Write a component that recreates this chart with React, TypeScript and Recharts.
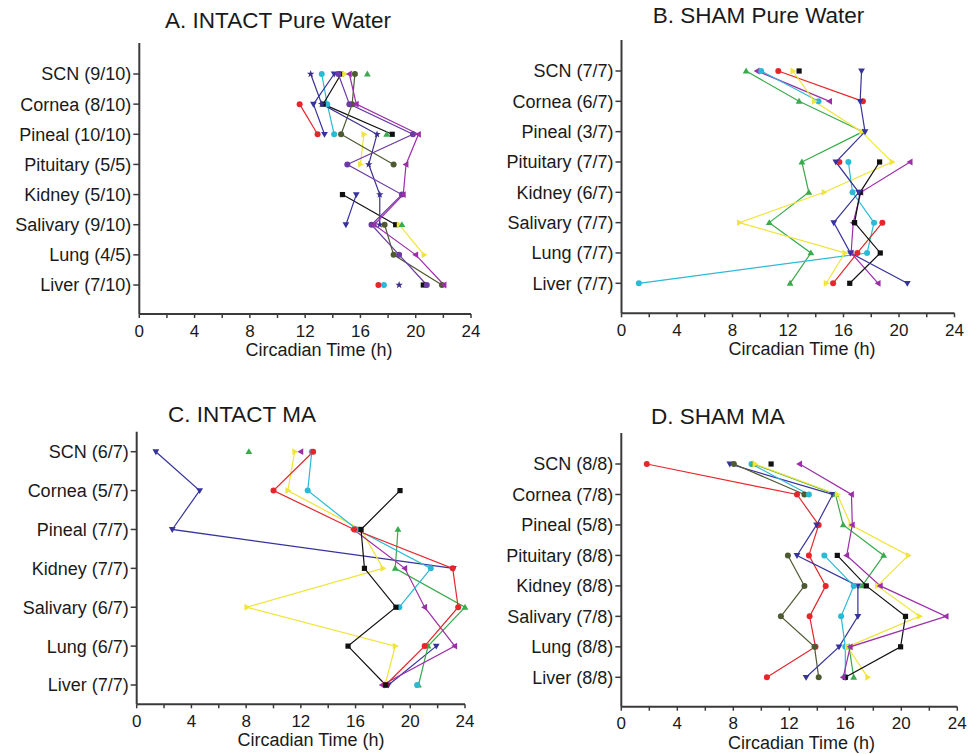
import { LineChart, Line, XAxis, YAxis } from 'recharts'

// ---- data (circadian peak times, h) ----
// rows follow the tissue order of each panel; null = no rhythm detected

const timeTicks = [0, 2, 4, 6, 8, 10, 12, 14, 16, 18, 20, 22, 24]
const xTitle = 'Circadian Time (h)'

// A. INTACT Pure Water
const aTissues = ['SCN (9/10)', 'Cornea (8/10)', 'Pineal (10/10)', 'Pituitary (5/5)', 'Kidney (5/10)', 'Salivary (9/10)', 'Lung (4/5)', 'Liver (7/10)']
const aRed = [null, 11.6, 12.9, null, null, null, null, 17.3]
const aCyan = [13.2, 13.6, 14.1, null, null, null, null, 17.7]
const aBlack = [14.6, 13.3, 18.3, null, 14.7, 18.55, null, 20.55]
const aYellow = [14.85, null, 16.25, 16.0, null, 18.8, 20.6, null]
const aGreen = [16.5, null, 17.9, null, null, 19.0, null, null]
const aNavy = [14.1, 12.6, 13.4, null, 15.7, 14.95, null, null]
const aOlive = [15.6, 15.4, 14.6, 18.4, null, 17.75, 18.4, 21.9]
const aStar = [12.4, 13.2, 17.2, 16.6, 17.4, 17.4, null, 18.8]
const aPurple = [14.4, 15.2, 19.8, 15.05, 19.0, 16.8, 18.8, 20.8]
const aMagenta = [15.2, 15.7, 20.2, 19.3, 19.1, 17.0, 20.0, 22.05]

// B. SHAM Pure Water
const bTissues = ['SCN (7/7)', 'Cornea (6/7)', 'Pineal (3/7)', 'Pituitary (7/7)', 'Kidney (6/7)', 'Salivary (7/7)', 'Lung (7/7)', 'Liver (7/7)']
const bGreen = [8.98, 12.8, 17.4, 13.0, 13.5, 10.65, 13.65, 12.15]
const bMagenta = [9.78, 15.0, null, 20.8, 17.25, 16.7, 16.55, 18.5]
const bCyan = [10.07, 14.2, null, 16.35, 16.65, 18.2, 17.7, 1.25]
const bRed = [11.3, 17.4, null, 15.7, null, 18.8, 17.0, 15.25]
const bYellow = [12.35, 13.9, 17.3, 19.5, 14.6, 8.5, 16.1, 14.75]
const bBlack = [12.8, null, null, 18.6, 17.2, 16.8, 18.65, 16.45]
const bNavy = [17.3, 17.2, 17.55, 15.45, 17.1, 15.3, 16.5, 20.6]

// C. INTACT MA
const cTissues = ['SCN (6/7)', 'Cornea (5/7)', 'Pineal (7/7)', 'Kidney (7/7)', 'Salivary (6/7)', 'Lung (6/7)', 'Liver (7/7)']
const cNavy = [1.4, 4.6, 2.6, 23.15, null, 21.9, 18.4]
const cGreen = [8.2, null, 19.1, 18.9, 24.0, 21.3, 20.6]
const cYellow = [11.55, 11.05, 16.4, 18.0, 8.05, 18.9, 18.15]
const cMagenta = [12.0, null, 15.85, 19.6, 21.05, 23.25, 17.95]
const cCyan = [12.8, 12.5, 16.1, 21.5, 19.2, null, 20.5]
const cRed = [12.9, 10.0, 15.9, 23.1, 23.5, 21.05, 18.2]
const cBlack = [null, 19.25, 16.4, 16.65, 18.95, 15.45, 18.2]

// D. SHAM MA
const dTissues = ['SCN (8/8)', 'Cornea (7/8)', 'Pineal (5/8)', 'Pituitary (8/8)', 'Kidney (8/8)', 'Salivary (7/8)', 'Lung (8/8)', 'Liver (8/8)']
const dRed = [1.82, 12.55, 14.1, 13.4, 14.6, 13.45, 13.87, 10.4]
const dNavy = [7.75, 15.1, 13.95, 12.55, 16.9, 16.9, 15.55, 13.2]
const dOlive = [8.04, 13.08, null, 11.9, 13.08, 11.4, 13.8, 14.1]
const dCyan = [9.3, 13.4, null, 14.5, 16.6, 15.7, 16.0, 16.0]
const dGreen = [9.43, 15.3, 15.85, 18.74, 17.2, null, 16.27, 16.6]
const dYellow = [9.55, 15.43, 16.4, 20.5, 18.3, 21.3, 16.15, 17.6]
const dBlack = [10.7, null, null, 15.43, 17.5, 20.3, 19.95, 16.0]
const dMagenta = [12.74, 16.44, 16.5, 16.1, 18.5, 23.2, 16.35, 15.85]

// ---- styling ----
const FONT = '"Liberation Sans", Arial, Helvetica, sans-serif'
const TEXT = '#1a1a1a'
const AXIS = '#3a3a3a'

type Shape = 'circle' | 'square' | 'up' | 'down' | 'left' | 'right' | 'star'

const STYLE: Record<string, { color: string; shape: Shape }> = {
  red: { color: '#e5262b', shape: 'circle' },
  cyan: { color: '#2bbad6', shape: 'circle' },
  black: { color: '#111111', shape: 'square' },
  yellow: { color: '#f1e43a', shape: 'right' },
  green: { color: '#3aaa4c', shape: 'up' },
  navy: { color: '#36339c', shape: 'down' },
  olive: { color: '#4e5a32', shape: 'circle' },
  star: { color: '#3a2f8e', shape: 'star' },
  purple: { color: '#6b3aa2', shape: 'circle' },
  magenta: { color: '#9c2ea8', shape: 'left' },
}

function Marker({ cx, cy, shape, color }: { cx: number; cy: number; shape: Shape; color: string }) {
  switch (shape) {
    case 'circle':
      return <circle cx={cx} cy={cy} r={3} fill={color} />
    case 'square':
      return <rect x={cx - 2.6} y={cy - 2.6} width={5.2} height={5.2} fill={color} />
    case 'up':
      return <polygon points={`${cx},${cy - 3.5} ${cx + 3.4},${cy + 2.4} ${cx - 3.4},${cy + 2.4}`} fill={color} />
    case 'down':
      return <polygon points={`${cx},${cy + 3.5} ${cx + 3.4},${cy - 2.4} ${cx - 3.4},${cy - 2.4}`} fill={color} />
    case 'left':
      return <polygon points={`${cx - 3.5},${cy} ${cx + 2.4},${cy - 3.4} ${cx + 2.4},${cy + 3.4}`} fill={color} />
    case 'right':
      return <polygon points={`${cx + 3.5},${cy} ${cx - 2.4},${cy - 3.4} ${cx - 2.4},${cy + 3.4}`} fill={color} />
    case 'star': {
      const pts: string[] = []
      for (let i = 0; i < 10; i++) {
        const r = i % 2 === 0 ? 3.9 : 1.6
        const a = -Math.PI / 2 + (i * Math.PI) / 5
        pts.push(`${cx + r * Math.cos(a)},${cy + r * Math.sin(a)}`)
      }
      return <polygon points={pts.join(' ')} fill={color} />
    }
  }
  return null
}

const makeDot = (shape: Shape, color: string) => (props: any) => {
  const { cx, cy, index } = props
  if (cx == null || cy == null || Number.isNaN(cx) || props.value == null) return <g key={`dot-${index}`} />
  return (
    <g key={`dot-${index}`}>
      <Marker cx={cx} cy={cy} shape={shape} color={color} />
    </g>
  )
}

interface Series {
  key: string
  values: (number | null)[]
}

// split one animal's values into runs of consecutive tissues, so missing tissues break the line
function toRuns(s: Series) {
  const runs: { id: string; idx: number[] }[] = []
  let cur: number[] = []
  s.values.forEach((v, i) => {
    if (v == null) {
      if (cur.length) runs.push({ id: `${s.key}_${runs.length}`, idx: cur })
      cur = []
    } else cur.push(i)
  })
  if (cur.length) runs.push({ id: `${s.key}_${runs.length}`, idx: cur })
  return runs
}

interface PanelProps {
  title: string
  tissues: string[]
  series: Series[]
  left: number
  top: number
  width: number
  height: number
  plot: { left: number; right: number; top: number; bottom: number }
  padTop: number
  padBottom: number
  titleX: number
  titleY: number
  xTitleX: number
}

function Panel({ title, tissues, series, left, top, width, height, plot, padTop, padBottom, titleX, titleY, xTitleX }: PanelProps) {
  const runs = series.flatMap(s => toRuns(s).map(r => ({ ...r, key: s.key, values: s.values })))
  const rows = tissues.map((t, i) => {
    const row: Record<string, any> = { tissue: t }
    runs.forEach(r => (row[r.id] = r.idx.includes(i) ? r.values[i] : null))
    return row
  })
  const xAxisHeight = 42
  const axisY = plot.bottom - top

  const TimeTick = (p: any) => {
    const v = p.payload?.value
    if (v == null || v % 4 !== 0) return <g />
    return (
      <text x={p.x} y={axisY + 22.5} textAnchor="middle" fontSize={17} fontFamily={FONT} fill={TEXT}>
        {v}
      </text>
    )
  }

  const AxisTitle = () => (
    <text
      x={xTitleX - left}
      y={axisY + 42}
      textAnchor="middle"
      style={{ fontSize: '18px', fontFamily: FONT, fill: TEXT }}
    >
      {xTitle}
    </text>
  )

  return (
    <>
      <div
        style={{
          position: 'absolute',
          left: titleX - 200,
          top: titleY - 11,
          width: 400,
          textAlign: 'center',
          fontFamily: FONT,
          fontSize: 22.5,
          lineHeight: 1,
          color: TEXT,
        }}
      >
        {title}
      </div>
      <div style={{ position: 'absolute', left, top, width, height }}>
        <LineChart
          width={width}
          height={height}
          data={rows}
          layout="vertical"
          margin={{
            top: plot.top - top,
            right: left + width - plot.right,
            left: 0,
            bottom: top + height - plot.bottom - xAxisHeight,
          }}
        >
          <XAxis
            type="number"
            domain={[0, 24]}
            ticks={timeTicks}
            interval={0}
            height={xAxisHeight}
            tickSize={4}
            tick={<TimeTick />}
            stroke={AXIS}
            strokeWidth={2}
            tickLine={{ stroke: AXIS, strokeWidth: 1.5 }}
            label={{ content: () => <AxisTitle /> }}
          />
          <YAxis
            type="category"
            dataKey="tissue"
            scale="point"
            interval={0}
            width={plot.left - left}
            padding={{ top: padTop, bottom: padBottom }}
            tick={{ fontSize: 18, fontFamily: FONT, fill: TEXT }}
            tickSize={6}
            tickMargin={2}
            stroke={AXIS}
            strokeWidth={2}
            tickLine={{ stroke: AXIS, strokeWidth: 1.5 }}
          />
          {runs.map(r => {
            const st = STYLE[r.key]
            return (
              <Line
                key={r.id}
                dataKey={r.id}
                stroke={st.color}
                strokeWidth={1.2}
                connectNulls={false}
                dot={makeDot(st.shape, st.color)}
                activeDot={false}
                isAnimationActive={false}
              />
            )
          })}
        </LineChart>
      </div>
    </>
  )
}

export default function App() {
  return (
    <div style={{ position: 'absolute', left: 0, top: 0, width: 968, height: 754, background: '#fff' }}>
      <Panel
        title="A. INTACT Pure Water"
        tissues={aTissues}
        series={[
          { key: 'red', values: aRed },
          { key: 'cyan', values: aCyan },
          { key: 'black', values: aBlack },
          { key: 'yellow', values: aYellow },
          { key: 'green', values: aGreen },
          { key: 'navy', values: aNavy },
          { key: 'olive', values: aOlive },
          { key: 'star', values: aStar },
          { key: 'purple', values: aPurple },
          { key: 'magenta', values: aMagenta },
        ]}
        left={0}
        top={0}
        width={484}
        height={376}
        plot={{ left: 139.3, right: 471, top: 43, bottom: 314 }}
        padTop={31}
        padBottom={29}
        titleX={278}
        titleY={21}
        xTitleX={319}
      />
      <Panel
        title="B. SHAM Pure Water"
        tissues={bTissues}
        series={[
          { key: 'green', values: bGreen },
          { key: 'magenta', values: bMagenta },
          { key: 'cyan', values: bCyan },
          { key: 'red', values: bRed },
          { key: 'yellow', values: bYellow },
          { key: 'black', values: bBlack },
          { key: 'navy', values: bNavy },
        ]}
        left={484}
        top={0}
        width={484}
        height={376}
        plot={{ left: 621.5, right: 954.5, top: 40, bottom: 313.3 }}
        padTop={31}
        padBottom={30}
        titleX={758.5}
        titleY={16}
        xTitleX={802}
      />
      <Panel
        title="C. INTACT MA"
        tissues={cTissues}
        series={[
          { key: 'navy', values: cNavy },
          { key: 'green', values: cGreen },
          { key: 'yellow', values: cYellow },
          { key: 'magenta', values: cMagenta },
          { key: 'cyan', values: cCyan },
          { key: 'red', values: cRed },
          { key: 'black', values: cBlack },
        ]}
        left={0}
        top={380}
        width={484}
        height={374}
        plot={{ left: 136.7, right: 465, top: 431.7, bottom: 704.3 }}
        padTop={20}
        padBottom={19.3}
        titleX={242}
        titleY={415}
        xTitleX={311}
      />
      <Panel
        title="D. SHAM MA"
        tissues={dTissues}
        series={[
          { key: 'red', values: dRed },
          { key: 'navy', values: dNavy },
          { key: 'olive', values: dOlive },
          { key: 'cyan', values: dCyan },
          { key: 'green', values: dGreen },
          { key: 'yellow', values: dYellow },
          { key: 'black', values: dBlack },
          { key: 'magenta', values: dMagenta },
        ]}
        left={484}
        top={380}
        width={484}
        height={374}
        plot={{ left: 621.3, right: 957.3, top: 433, bottom: 706.7 }}
        padTop={31}
        padBottom={29.4}
        titleX={718}
        titleY={417}
        xTitleX={801.5}
      />
    </div>
  )
}
